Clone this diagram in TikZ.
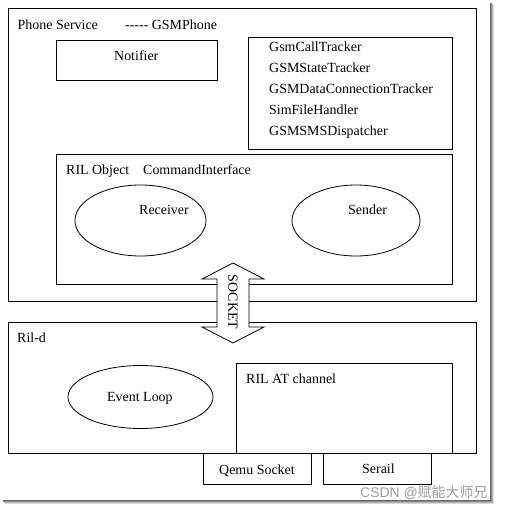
\documentclass[tikz,border=0pt]{standalone}
\usepackage{fontspec}
\setmainfont{Liberation Serif}
\newfontfamily\cjkfont{Noto Sans CJK SC}
\newfontfamily\wmfont{Liberation Sans}
\usetikzlibrary{shapes.geometric}
\begin{document}
\begin{tikzpicture}[x=1bp,y=-1bp,
  box/.style={draw, line width=1bp, anchor=north west, inner sep=0pt, outer sep=0pt},
  oval/.style={draw, line width=0.8bp, ellipse, inner sep=0pt},
  lbl/.style={anchor=base west, inner sep=0pt, font=\fontsize{14}{16}\selectfont},
  shade1/.style={line width=1bp}]
\useasboundingbox[fill=white] (0,0) rectangle (505,509);
% frame shadow
\draw[shade1, black!60] (490.5,3) -- (490.5,500.5) -- (3,500.5);
\draw[shade1, black!45] (491.5,3) -- (491.5,501.5) -- (3,501.5);
\draw[shade1, black!30] (492.5,4) -- (492.5,502.5) -- (4,502.5);
\draw[shade1, black!15] (493.5,5) -- (493.5,503.5) -- (5,503.5);
% Phone service part
\node[box, minimum width=468bp, minimum height=292bp] (phone) at (8,9) {};
\node[lbl] (phonelbl) at (17.5,30) {Phone Service};
\node[lbl] (gsmphone) at (125,30) {-{}-{}-{}-{}- GSMPhone};
\node[box, minimum width=161bp, minimum height=40bp] (notifier) at (56,41) {};
\node[lbl] (notlbl) at (114,61) {Notifier};
\node[box, minimum width=204bp, minimum height=111bp] (trackers) at (248,38) {};
\node[lbl] (t1) at (269,51.5) {GsmCallTracker};
\node[lbl] (t2) at (269,72.5) {GSMStateTracker};
\node[lbl] (t3) at (269,93.5) {GSMDataConnectionTracker};
\node[lbl] (t4) at (269,114.5) {SimFileHandler};
\node[lbl] (t5) at (269,135.5) {GSMSMSDispatcher};
\node[box, minimum width=396bp, minimum height=129bp] (ril) at (56,155) {};
\node[lbl] (rillbl) at (66,175) {RIL Object};
\node[lbl] (cmdlbl) at (143,175) {CommandInterface};
\node[oval, minimum width=131bp, minimum height=71bp] (recv) at (140.5,220.5) {};
\node[lbl] (recvlbl) at (139,214) {Receiver};
\node[oval, minimum width=128bp, minimum height=71bp] (send) at (356,220.5) {};
\node[lbl] (sendlbl) at (348,214) {Sender};
% Ril-d part
\node[box, minimum width=468bp, minimum height=131bp] (rild) at (8,322) {};
\node[lbl] (rildlbl) at (17,342) {Ril-d};
\node[oval, minimum width=145bp, minimum height=63bp] (loop) at (140.5,397) {};
\node[lbl] (looplbl) at (107,401) {Event Loop};
\node[box, minimum width=216bp, minimum height=90bp] (atch) at (236,363) {};
\node[lbl] (atlbl) at (246,383) {RIL AT channel};
\node[box, minimum width=108bp, minimum height=31bp] (qemu) at (203,453) {};
\node[lbl] (qemulbl) at (219,474) {Qemu Socket};
\node[box, minimum width=108bp, minimum height=31bp] (serail) at (323,453) {};
\node[lbl] (seraillbl) at (362,473) {Serail};
% socket double arrow
\draw[line width=0.8bp, fill=white] (233,263) -- (264,279) -- (249,279) -- (249,327) -- (264,327)
  -- (233,343) -- (202,327) -- (217,327) -- (217,279) -- (202,279) -- cycle;
\node[inner sep=0pt, rotate=-90, font=\fontsize{14}{16}\selectfont] (socket) at (233,302) {SOCKET};
% watermark
\node[anchor=base west, inner sep=0pt, text=black!38, font=\fontsize{14}{16}\selectfont] (wm) at (360,497) {\wmfont CSDN @\cjkfont 赋能大师兄};
\end{tikzpicture}
\end{document}
